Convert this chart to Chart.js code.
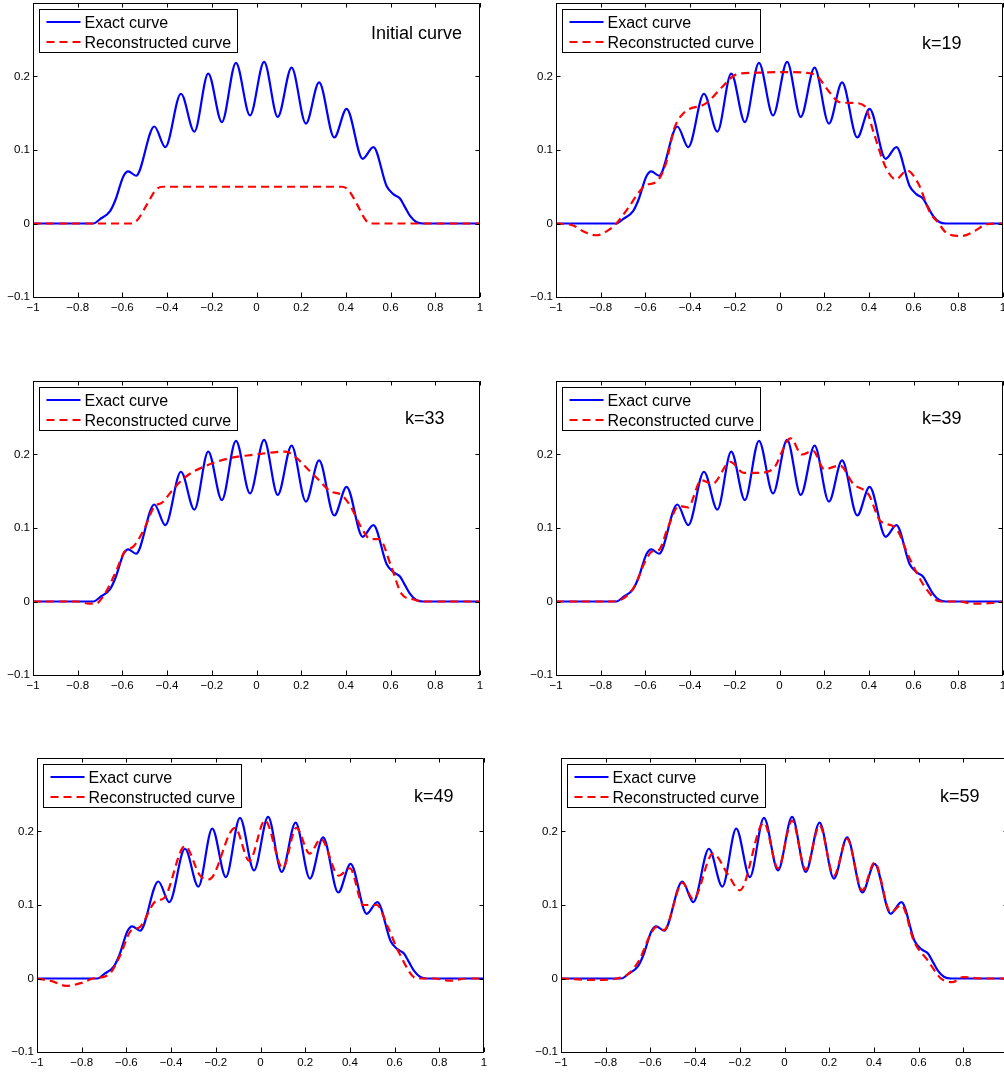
<!DOCTYPE html>
<html>
<head>
<meta charset="utf-8">
<script src="https://cdn.jsdelivr.net/npm/chart.js@4.4.0/dist/chart.umd.min.js"></script>
<style>
  html, body { margin: 0; padding: 0; background: #fff; overflow: hidden; }
  body { width: 1004px; height: 1072px; position: relative; }
  canvas { position: absolute; }
</style>
</head>
<body>
<canvas id="p1" width="497" height="322"></canvas>
<canvas id="p2" width="497" height="322"></canvas>
<canvas id="p3" width="497" height="322"></canvas>
<canvas id="p4" width="497" height="322"></canvas>
<canvas id="p5" width="497" height="322"></canvas>
<canvas id="p6" width="497" height="322"></canvas>
<script>
// axis ticks and labels
const xTicks = [-1, -0.8, -0.6, -0.4, -0.2, 0, 0.2, 0.4, 0.6, 0.8, 1];
const yTicks = [-0.1, 0, 0.1, 0.2];
const legendLabels = ['Exact curve', 'Reconstructed curve'];
const panelTitles = ['Initial curve', 'k=19', 'k=33', 'k=39', 'k=49', 'k=59'];

// exact curve (same in every panel)
const exactX = [-1, -0.73, -0.70, -0.655, -0.63, -0.596, -0.574, -0.539, -0.457, -0.408, -0.338, -0.278, -0.216, -0.155, -0.092, -0.029, 0.034, 0.095, 0.157, 0.221, 0.280, 0.348, 0.403, 0.475, 0.523, 0.582, 0.612, 0.642, 0.665, 0.688, 0.715, 0.745, 1];
const exactY = [0, 0, 0.006, 0.017, 0.033, 0.064, 0.071, 0.065, 0.132, 0.104, 0.1765, 0.125, 0.204, 0.138, 0.2186, 0.147, 0.220, 0.145, 0.212, 0.136, 0.192, 0.117, 0.156, 0.088, 0.104, 0.051, 0.040, 0.034, 0.022, 0.010, 0.002, 0, 0];

// reconstructed curves
const initX = [-1, -0.56, -0.535, -0.49, -0.45, -0.42, 0.38, 0.41, 0.45, 0.49, 0.515, 1];
const initY = [0, 0, 0.004, 0.026, 0.046, 0.05, 0.05, 0.046, 0.026, 0.004, 0, 0];

const k19X = [-1, -0.93, -0.87, -0.82, -0.77, -0.73, -0.68, -0.63, -0.60, -0.55, -0.51, -0.47, -0.43, -0.326, -0.259, -0.192, -0.117, 0.032, 0.12, 0.17, 0.22, 0.27, 0.33, 0.38, 0.42, 0.47, 0.52, 0.57, 0.62, 0.673, 0.71, 0.748, 0.815, 0.875, 0.927, 1];
const k19Y = [0, -0.002, -0.012, -0.016, -0.01, 0, 0.02, 0.042, 0.052, 0.057, 0.08, 0.13, 0.15, 0.164, 0.185, 0.203, 0.205, 0.206, 0.205, 0.2, 0.18, 0.165, 0.164, 0.16, 0.125, 0.08, 0.06, 0.072, 0.055, 0.015, 0.001, -0.013, -0.017, -0.01, -0.001, 0];

const k33X = [-1, -0.8, -0.75, -0.72, -0.68, -0.63, -0.59, -0.55, -0.50, -0.46, -0.42, -0.38, -0.32, -0.223, -0.104, -0.014, 0.08, 0.13, 0.18, 0.23, 0.28, 0.33, 0.38, 0.42, 0.47, 0.51, 0.55, 0.60, 0.65, 0.70, 0.75, 1];
const k33Y = [0, 0, -0.003, -0.003, 0.01, 0.04, 0.068, 0.075, 0.1, 0.128, 0.135, 0.15, 0.169, 0.185, 0.196, 0.1996, 0.203, 0.204, 0.195, 0.18, 0.165, 0.15, 0.145, 0.13, 0.1, 0.085, 0.085, 0.05, 0.01, 0.003, 0, 0];

const k39X = [-1, -0.85, -0.75, -0.70, -0.65, -0.60, -0.57, -0.54, -0.50, -0.45, -0.41, -0.35, -0.30, -0.22, -0.16, -0.10, -0.03, 0.05, 0.10, 0.15, 0.20, 0.27, 0.33, 0.40, 0.45, 0.52, 0.58, 0.65, 0.72, 0.80, 0.87, 0.95, 1];
const k39Y = [0, 0, 0, 0.004, 0.02, 0.055, 0.068, 0.07, 0.1, 0.13, 0.128, 0.165, 0.16, 0.19, 0.175, 0.175, 0.18, 0.222, 0.2, 0.205, 0.18, 0.185, 0.16, 0.145, 0.11, 0.1, 0.06, 0.02, 0, 0, -0.003, -0.002, 0];

const k49X = [-1, -0.93, -0.87, -0.80, -0.75, -0.68, -0.63, -0.58, -0.54, -0.47, -0.43, -0.338, -0.27, -0.23, -0.114, -0.05, 0.02, 0.10, 0.16, 0.22, 0.27, 0.35, 0.40, 0.46, 0.52, 0.57, 0.62, 0.70, 0.78, 0.85, 0.92, 1];
const k49Y = [0, -0.004, -0.01, -0.006, 0, 0.005, 0.03, 0.065, 0.07, 0.105, 0.11, 0.18, 0.14, 0.135, 0.205, 0.16, 0.215, 0.15, 0.205, 0.17, 0.19, 0.14, 0.15, 0.1, 0.1, 0.07, 0.035, 0, 0, -0.003, 0, 0];

const k59X = [-1, -0.85, -0.75, -0.70, -0.65, -0.60, -0.574, -0.539, -0.457, -0.408, -0.32, -0.25, -0.20, -0.092, -0.029, 0.034, 0.095, 0.157, 0.221, 0.280, 0.348, 0.403, 0.475, 0.523, 0.58, 0.64, 0.70, 0.75, 0.80, 0.88, 1];
const k59Y = [0, -0.002, 0, 0.006, 0.025, 0.06, 0.07, 0.066, 0.13, 0.108, 0.17, 0.14, 0.12, 0.212, 0.15, 0.215, 0.148, 0.208, 0.14, 0.19, 0.12, 0.158, 0.09, 0.1, 0.05, 0.025, 0, -0.005, 0.002, 0, 0];

const recX = [initX, k19X, k33X, k39X, k49X, k59X];
const recY = [initY, k19Y, k33Y, k39Y, k49Y, k59Y];

// where each plot box sits on the page, and where its label goes inside it
const plotPos = [[33, 3], [556, 3], [33, 381], [556, 381], [37, 758], [561, 758]];
const titlePos = [[338, 36], [366, 46], [372, 43], [366, 43], [377, 44], [379, 44]];

const AXIS_W = 40;
const AXIS_H = 25;
const PAD_TOP = 3;
const FONT = '"Liberation Sans", Arial, Helvetica, sans-serif';

const toPoints = (xs, ys) => xs.map((x, i) => ({ x: x, y: ys[i] }));
const fmt = (v) => (v < 0 ? '\u2212' + Math.abs(v) : String(v));

//box, inward ticks, legend and label drawn on top of the chart
const panelDeco = {
	id: 'panelDeco',
	afterDatasetsDraw(chart, args, opts) {
		const { ctx, chartArea: a, scales } = chart;
		ctx.save();
		ctx.strokeStyle = '#000';
		ctx.lineWidth = 1;
		ctx.beginPath();
		ctx.rect(a.left + 0.5, a.top + 0.5, a.right - a.left - 1, a.bottom - a.top);
		xTicks.forEach((v) => {
			const px = Math.round(scales.x.getPixelForValue(v)) + 0.5;
			ctx.moveTo(px, a.bottom);
			ctx.lineTo(px, a.bottom - 4.5);
			ctx.moveTo(px, a.top);
			ctx.lineTo(px, a.top + 4.5);
		});
		yTicks.forEach((v) => {
			const py = Math.round(scales.y.getPixelForValue(v)) + 0.5;
			ctx.moveTo(a.left, py);
			ctx.lineTo(a.left + 4.5, py);
			ctx.moveTo(a.right, py);
			ctx.lineTo(a.right - 4.5, py);
		});
		ctx.stroke();

		// legend
		const bx = a.left + 6.5;
		const by = a.top + 6.5;
		ctx.fillStyle = '#fff';
		ctx.fillRect(bx, by, 198, 43);
		ctx.strokeRect(bx, by, 198, 43);
		const ds = chart.data.datasets;
		[ds[0], ds[1]].forEach((d, i) => {
			const ly = by + 12.5 + i * 20;
			ctx.strokeStyle = d.borderColor;
			ctx.lineWidth = d.borderWidth;
			ctx.setLineDash(d.borderDash || []);
			ctx.beginPath();
			ctx.moveTo(bx + 7, ly);
			ctx.lineTo(bx + 41, ly);
			ctx.stroke();
			ctx.setLineDash([]);
			ctx.fillStyle = '#000';
			ctx.font = '16px ' + FONT;
			ctx.textBaseline = 'alphabetic';
			ctx.fillText(d.label, bx + 45, ly + 5.7);
		});

		// panel label
		ctx.font = '18px ' + FONT;
		ctx.fillStyle = '#000';
		ctx.fillText(opts.title, a.left + opts.tx, a.top + opts.ty);
		ctx.restore();
	}
};

function makePanel(i) {
	const canvas = document.getElementById('p' + (i + 1));
	canvas.style.left = (plotPos[i][0] - AXIS_W) + 'px';
	canvas.style.top = (plotPos[i][1] - PAD_TOP) + 'px';
	return new Chart(canvas, {
		type: 'line',
		data: {
			datasets: [
				{
					label: legendLabels[0],
					data: toPoints(exactX, exactY),
					borderColor: '#0000ff',
					borderWidth: 2.2,
					pointRadius: 0,
					cubicInterpolationMode: 'monotone',
					fill: false,
					order: 1
				},
				{
					label: legendLabels[1],
					data: toPoints(recX[i], recY[i]),
					borderColor: '#ff0000',
					borderWidth: 2.2,
					borderDash: [8, 5],
					pointRadius: 0,
					cubicInterpolationMode: 'monotone',
					fill: false,
					order: 0
				}
			]
		},
		options: {
			responsive: false,
			animation: false,
			events: [],
			layout: { padding: { top: PAD_TOP, right: 10, left: 0, bottom: 0 } },
			plugins: {
				legend: { display: false },
				tooltip: { enabled: false },
				panelDeco: { title: panelTitles[i], tx: titlePos[i][0], ty: titlePos[i][1] }
			},
			scales: {
				x: {
					type: 'linear',
					min: -1,
					max: 1,
					grid: { display: false, drawTicks: false },
					border: { display: false },
					ticks: { padding: 4, color: '#000', font: { family: FONT, size: 11.5 }, callback: fmt, maxRotation: 0, autoSkip: false },
					afterBuildTicks: (s) => { s.ticks = xTicks.map((v) => ({ value: v })); },
					afterFit: (s) => {
						s.height = AXIS_H;
						s.paddingLeft = 0;
						s.paddingRight = 0;
					}
				},
				y: {
					type: 'linear',
					min: -0.1,
					max: 0.3,
					grid: { display: false, drawTicks: false },
					border: { display: false },
					ticks: { padding: 3, color: '#000', font: { family: FONT, size: 11.5 }, callback: fmt, autoSkip: false },
					afterBuildTicks: (s) => { s.ticks = yTicks.map((v) => ({ value: v })); },
					afterFit: (s) => {
						s.width = AXIS_W;
						s.paddingTop = 0;
						s.paddingBottom = 0;
					}
				}
			}
		},
		plugins: [panelDeco]
	});
}

for (let i = 0; i < 6; i++) makePanel(i);
</script>
</body>
</html>
